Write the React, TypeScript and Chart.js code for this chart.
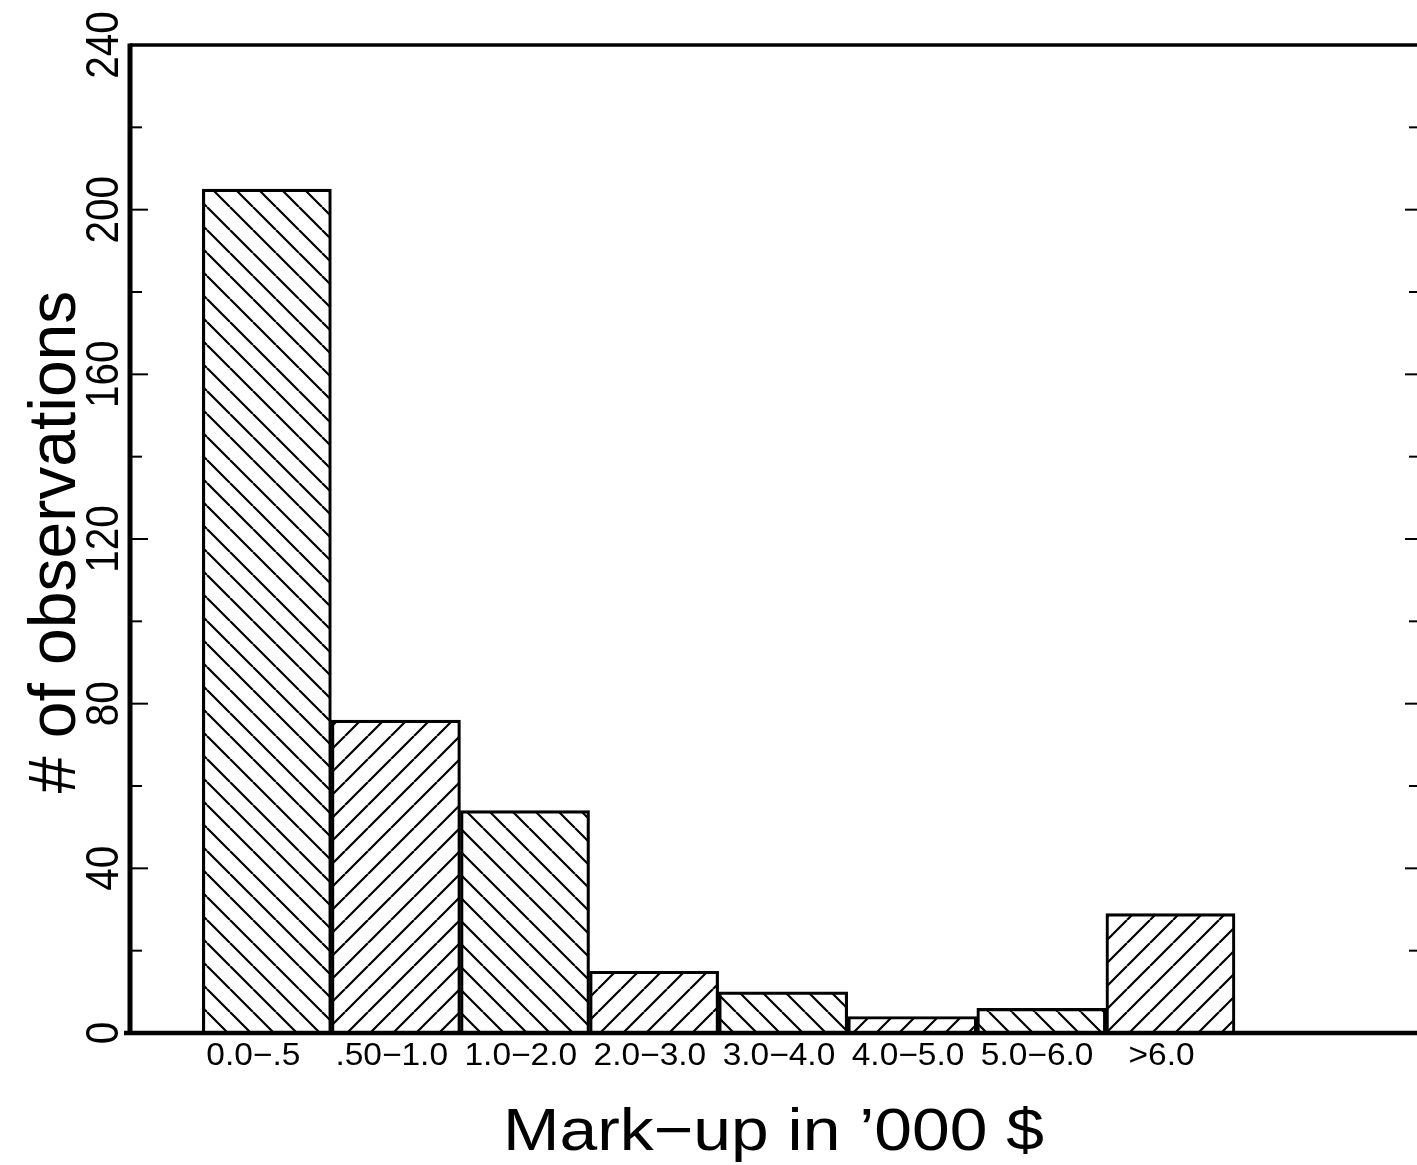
import React, { useEffect, useRef } from "react";
import { Chart, registerables } from "chart.js";

Chart.register(...registerables);

// ---- data ----
const categories = ["0.0−.5", ".50−1.0", "1.0−2.0", "2.0−3.0", "3.0−4.0", "4.0−5.0", "5.0−6.0", "  >6.0"];
const observations = [205, 76, 54, 15, 10, 4, 6, 29];
const hatchDirections = ["\\", "/", "\\", "/", "\\", "/", "\\", "/"];
const yMajorTicks = [0, 40, 80, 120, 160, 200, 240];
const yMinorTicks = [20, 60, 100, 140, 180, 220];
const xTitle = "Mark−up in ’000 $";
const yTitle = "# of observations";

const W = 1417;
const H = 1165;
const FONT = "'Liberation Sans', Arial, sans-serif";

function makeHatch(ctx: CanvasRenderingContext2D, dir: string, size = 23, lw = 2.2) {
  const c = document.createElement("canvas");
  c.width = size;
  c.height = size;
  const g = c.getContext("2d")!;
  g.strokeStyle = "#000";
  g.lineWidth = lw;
  g.beginPath();
  for (const k of [-1, 0, 1]) {
    if (dir === "/") {
      g.moveTo(k * size, size);
      g.lineTo(k * size + size, 0);
    } else {
      g.moveTo(k * size, 0);
      g.lineTo(k * size + size, size);
    }
  }
  g.stroke();
  return ctx.createPattern(c, "repeat")!;
}

const decorPlugin = {
  id: "decor",
  afterDraw(chart: any) {
    const { ctx, chartArea, scales } = chart;
    const xs = scales.x;
    const ys = scales.y;
    const { left, right, top, bottom } = chartArea;
    ctx.save();
    ctx.strokeStyle = "#000";
    ctx.fillStyle = "#000";
    ctx.lineCap = "butt";

    // frame
    ctx.lineWidth = 3.5;
    ctx.beginPath();
    ctx.moveTo(left, top);
    ctx.lineTo(right, top);
    ctx.stroke();
    ctx.lineWidth = 5;
    ctx.beginPath();
    ctx.moveTo(left, top - 1.5);
    ctx.lineTo(left, bottom + 2);
    ctx.stroke();
    ctx.lineWidth = 4.5;
    ctx.beginPath();
    ctx.moveTo(left - 6, bottom);
    ctx.lineTo(right, bottom);
    ctx.stroke();

    // left ticks (inward)
    ctx.lineWidth = 2;
    for (const v of yMajorTicks) {
      const y = ys.getPixelForValue(v);
      ctx.beginPath();
      ctx.moveTo(left, y);
      ctx.lineTo(left + 18, y);
      ctx.stroke();
    }
    for (const v of yMinorTicks) {
      const y = ys.getPixelForValue(v);
      ctx.beginPath();
      ctx.moveTo(left, y);
      ctx.lineTo(left + 12, y);
      ctx.stroke();
    }
    // right ticks (inward, axis just beyond the picture)
    for (const v of yMajorTicks.slice(1, -1)) {
      const y = ys.getPixelForValue(v);
      ctx.beginPath();
      ctx.moveTo(right - 12, y);
      ctx.lineTo(right, y);
      ctx.stroke();
    }
    for (const v of yMinorTicks) {
      const y = ys.getPixelForValue(v);
      ctx.beginPath();
      ctx.moveTo(right - 8, y);
      ctx.lineTo(right, y);
      ctx.stroke();
    }

    // y tick labels (rotated)
    ctx.font = `46px ${FONT}`;
    ctx.textAlign = "center";
    ctx.textBaseline = "alphabetic";
    for (const v of yMajorTicks) {
      const y = ys.getPixelForValue(v);
      ctx.save();
      ctx.translate(left - 12, y);
      ctx.rotate(-Math.PI / 2);
      ctx.scale(0.88, 1);
      ctx.fillText(String(v), 0, 0);
      ctx.restore();
    }

    // x tick labels
    ctx.font = `31px ${FONT}`;
    ctx.textAlign = "left";
    categories.forEach((lab, i) => {
      const x = xs.getPixelForValue(i) + 4;
      ctx.save();
      ctx.translate(x, bottom + 32);
      ctx.scale(1.08, 1);
      ctx.fillText(lab, 0, 0);
      ctx.restore();
    });

    // y title
    ctx.font = `66px ${FONT}`;
    ctx.textAlign = "center";
    ctx.save();
    ctx.translate(75, (top + bottom) / 2 + 3);
    ctx.rotate(-Math.PI / 2);
    ctx.fillText(yTitle, 0, 0);
    ctx.restore();

    // x title
    ctx.font = `60px ${FONT}`;
    ctx.save();
    ctx.translate((left + right) / 2, 1150);
    ctx.scale(1.13, 1);
    ctx.fillText(xTitle, 0, 0);
    ctx.restore();

    ctx.restore();
  },
};

export default function App() {
  const ref = useRef<HTMLCanvasElement | null>(null);

  useEffect(() => {
    document.body.style.margin = "0";
    document.body.style.background = "#fff";
    const canvas = ref.current!;
    const ctx = canvas.getContext("2d")!;
    const patterns = hatchDirections.map((d) => makeHatch(ctx, d));

    const chart = new Chart(ctx, {
      type: "bar",
      data: {
        datasets: [
          {
            data: observations.map((v, i) => ({ x: i + 0.5, y: v })),
            backgroundColor: patterns,
            borderColor: "#000",
            borderWidth: 2.5,
            borderSkipped: "bottom",
            barPercentage: 1,
            categoryPercentage: 1,
          },
        ],
      },
      options: {
        responsive: false,
        animation: false,
        devicePixelRatio: 1,
        layout: { padding: { left: 130, top: 45, right: 0, bottom: H - 1033 } },
        plugins: {
          legend: { display: false },
          tooltip: { enabled: false },
          title: { display: false },
        },
        scales: {
          x: {
            type: "linear",
            display: false,
            offset: false,
            min: -0.56,
            max: 9.41,
            afterBuildTicks: (scale: any) => {
              scale.ticks = [0, 1, 2, 3, 4, 5, 6, 7, 8, 9].map((v) => ({ value: v }));
            },
          },
          y: {
            type: "linear",
            display: false,
            min: 0,
            max: 240,
          },
        },
      },
      plugins: [decorPlugin],
    });

    return () => chart.destroy();
  }, []);

  return (
    <canvas
      ref={ref}
      width={W}
      height={H}
      style={{ display: "block", position: "absolute", left: 0, top: 0, width: W, height: H }}
    />
  );
}
